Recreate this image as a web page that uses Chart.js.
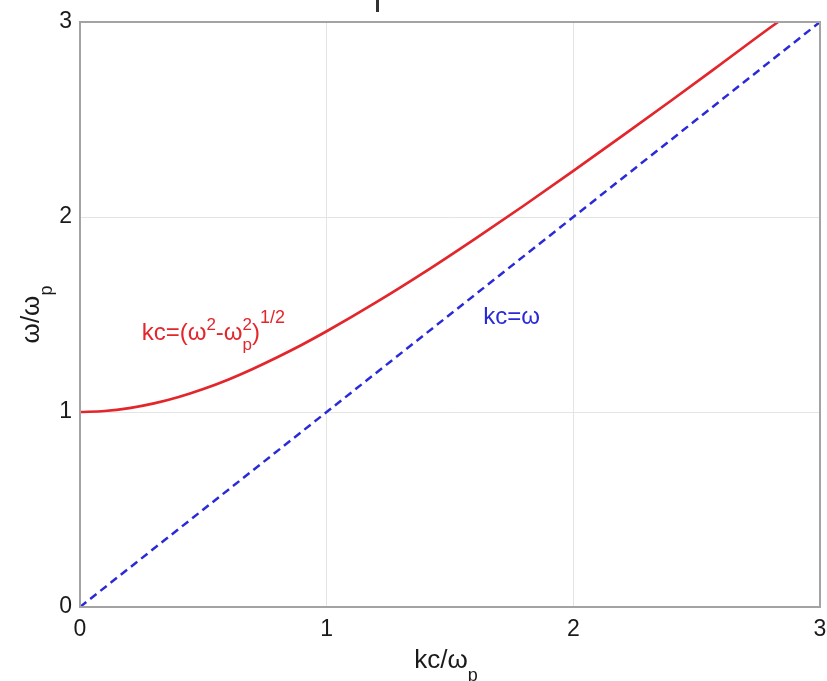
<!DOCTYPE html>
<html>
<head>
<meta charset="utf-8">
<script src="https://cdn.jsdelivr.net/npm/chart.js@4.4.1/dist/chart.umd.min.js"></script>
<style>
  body { margin: 0; background: #fff; }
  canvas { display: block; }
</style>
</head>
<body>
<canvas id="plasma" width="827" height="681"></canvas>
<script>
// data
const kValues = [0, 0.1, 0.2, 0.3, 0.4, 0.5, 0.6, 0.7, 0.8, 0.9, 1.0, 1.2, 1.4, 1.6, 1.8, 2.0, 2.2, 2.4, 2.6, 2.8, 2.83];
const omegaValues = [1.00, 1.005, 1.02, 1.044, 1.077, 1.118, 1.166, 1.221, 1.281, 1.345, 1.414, 1.562, 1.720, 1.887, 2.059, 2.236, 2.417, 2.600, 2.786, 2.973, 3.00];
const lightK = [0, 3];
const lightOmega = [0, 3];
const tickLabels = ['0', '1', '2', '3'];

const FONT = '"Liberation Sans", Arial, sans-serif';
const RED = '#e3262b';
const BLUE = '#2a2ad8';
const FRAME = '#a3a3a3';
const GRID = '#e4e4e4';

function toPoints(xs, ys) {
    return xs.map((x, i) => ({ x: x, y: ys[i] }));
}

// draw a row of text pieces: [text, dy, scale]
function drawPieces(c, x, y, size, pieces, color) {
    c.fillStyle = color;
    c.textBaseline = 'alphabetic';
    c.textAlign = 'left';
    let px = x;
    pieces.forEach(p => {
        if (p.stack) {
            // super and sub stacked at the same x
            c.font = Math.round(size * 0.72) + 'px ' + FONT;
            c.fillText(p.stack[0], px, y - size * 0.42);
            c.fillText(p.stack[1], px, y + size * 0.42);
            px += Math.max(c.measureText(p.stack[0]).width, c.measureText(p.stack[1]).width);
            return;
        }
        let s = p[2] || 1;
        c.font = Math.round(size * s) + 'px ' + FONT;
        c.fillText(p[0], px, y + (p[1] || 0) * size);
        px += c.measureText(p[0]).width;
    });
    return px - x;
}

function piecesWidth(c, size, pieces) {
    let w = 0;
    pieces.forEach(p => {
        c.font = Math.round(size * (p[2] || 1)) + 'px ' + FONT;
        w += c.measureText(p[0]).width;
    });
    return w;
}

// labels, axis titles and the frame
const textPlugin = {
    id: 'texts',
    afterDraw(chart) {
        const c = chart.ctx;
        const xs = chart.scales.x, ys = chart.scales.y;
        const area = chart.chartArea;
        c.save();

        // frame on top and right
        c.strokeStyle = FRAME;
        c.lineWidth = 2;
        c.strokeRect(area.left, area.top, area.right - area.left, area.bottom - area.top);

        // curve labels
        drawPieces(c, xs.getPixelForValue(0.25), ys.getPixelForValue(1.37), 24, [
            ['kc=(ω'], ['2', -0.42, 0.72], ['-ω'], { stack: ['2', 'p'] }, [')'], ['1/2', -0.72, 0.75]
        ], RED);
        drawPieces(c, xs.getPixelForValue(1.635), ys.getPixelForValue(1.45), 24, [
            ['kc=ω']
        ], BLUE);

        // x title
        const xt = [['kc/ω'], ['p', 0.5, 0.7]];
        const xw = piecesWidth(c, 26, xt);
        drawPieces(c, (area.left + area.right) / 2 - xw / 2 - 4, 668, 26, xt, '#1a1a1a');

        // y title, rotated
        const yt = [['ω/ω'], ['p', 0.5, 0.7]];
        const yw = piecesWidth(c, 26, yt);
        c.translate(39, (area.top + area.bottom) / 2);
        c.rotate(-Math.PI / 2);
        drawPieces(c, -yw / 2, 0, 26, yt, '#1a1a1a');
        c.restore();

        // clipped title stub at the top
        c.fillStyle = '#333';
        c.fillRect(376, 0, 3, 12);
    }
};

const chart = new Chart(document.getElementById('plasma'), {
    type: 'line',
    data: {
        datasets: [{
            label: 'kc=(ω²-ωp²)^1/2',
            data: toPoints(kValues, omegaValues),
            borderColor: RED,
            borderWidth: 2.7,
            pointRadius: 0,
            cubicInterpolationMode: 'monotone',
        }, {
            label: 'kc=ω',
            data: toPoints(lightK, lightOmega),
            borderColor: BLUE,
            borderWidth: 2.5,
            borderDash: [8, 5],
            pointRadius: 0,
        }],
    },
    options: {
        responsive: false,
        animation: false,
        layout: { padding: { top: 22, right: 7, left: 0, bottom: 0 } },
        plugins: {
            legend: { display: false },
            tooltip: { enabled: false },
        },
        scales: {
            x: {
                type: 'linear',
                min: 0,
                max: 3,
                afterFit(s) { s.height = 74; s.paddingLeft = 0; s.paddingRight = 0; },
                ticks: {
                    stepSize: 1,
                    padding: 9,
                    maxRotation: 0,
                    color: '#1a1a1a',
                    font: { family: FONT, size: 23 },
                    callback: (v, i) => tickLabels[i],
                },
                grid: { color: GRID, lineWidth: 1, drawTicks: false },
                border: { color: FRAME, width: 2 },
            },
            y: {
                type: 'linear',
                min: 0,
                max: 3,
                afterFit(s) { s.width = 80; s.paddingTop = 0; s.paddingBottom = 0; },
                ticks: {
                    stepSize: 1,
                    padding: 8,
                    color: '#1a1a1a',
                    font: { family: FONT, size: 23 },
                    callback: (v, i) => tickLabels[i],
                },
                grid: { color: GRID, lineWidth: 1, drawTicks: false },
                border: { color: FRAME, width: 2 },
            },
        },
    },
    plugins: [textPlugin],
});
</script>
</body>
</html>
